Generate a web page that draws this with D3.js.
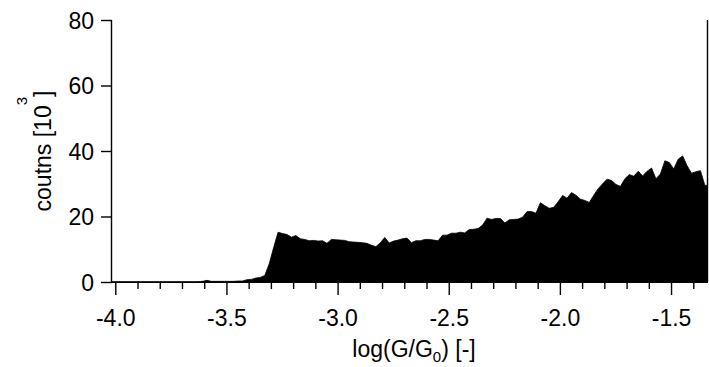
<!DOCTYPE html>
<html>
<head>
<meta charset="utf-8">
<script src="https://cdn.jsdelivr.net/npm/d3@7"></script>
<style>
  html, body { margin: 0; padding: 0; background: #fff; }
  svg { display: block; }
  text { font-family: "Liberation Sans", Arial, sans-serif; fill: #000; }
</style>
</head>
<body>
<svg id="chart" width="709" height="367"></svg>
<script>
// Conductance histogram: counts (in thousands) per log(G/G0) bin
const binStart = -4.02;
const binWidth = 0.02;
const counts = [
  0.1, 0.1, 0.1, 0.1, 0.1, 0.1, 0.1, 0.1, 0.1, 0.1,
  0.1, 0.1, 0.1, 0.1, 0.1, 0.1, 0.1, 0.1, 0.1, 0.1,
  0.2, 0.5, 0.2, 0.2, 0.2, 0.2, 0.2, 0.2, 0.3, 0.3,
  0.7, 0.8, 1.2, 1.4, 2.0, 5.5, 10.5, 15.2, 14.8, 14.5,
  13.7, 14.2, 13.2, 13.0, 12.6, 12.7, 12.5, 12.6, 11.8, 13.0,
  12.9, 12.8, 12.7, 12.3, 12.2, 12.1, 12.0, 11.8, 11.2, 10.8,
  12.0, 13.6, 11.9, 12.5, 12.8, 13.2, 13.4, 12.0, 12.6, 12.6,
  13.0, 13.0, 12.8, 12.6, 14.3, 14.3, 14.9, 14.9, 15.2, 15.0,
  16.0, 16.1, 16.3, 17.4, 19.5, 19.1, 19.4, 19.4, 18.0, 19.0,
  19.1, 19.2, 19.8, 21.5, 21.5, 21.0, 24.2, 23.3, 22.5, 22.8,
  24.5, 26.4, 25.6, 27.3, 26.5, 25.3, 24.9, 24.3, 26.5, 28.5,
  30.0, 31.4, 31.0, 29.8, 29.2, 31.5, 32.8, 32.3, 33.8, 32.4,
  33.8, 34.8, 31.5, 33.0, 37.0, 36.5, 34.5, 37.5, 38.5, 35.5,
  33.2, 33.7, 34.0, 29.5
];

const xDomain = [-4.017, -1.336];
const yDomain = [0, 80];
const xMajorTicks = [-4.0, -3.5, -3.0, -2.5, -2.0, -1.5];
const xMinorTicks = d3.range(-40, -13).map(d => d / 10);
const yTicks = [0, 20, 40, 60, 80];

const plot = { left: 112, right: 708, top: 20, bottom: 282 };
const fontPx = 23;

const svg = d3.select("#chart");

const x = d3.scaleLinear().domain(xDomain).range([plot.left, plot.right]);
const y = d3.scaleLinear().domain(yDomain).range([plot.bottom, plot.top]);

// Histogram outline traced through bin centres
const pts = counts.map((c, i) => ({ pos: binStart + (i + 0.5) * binWidth, c }));
const first = { pos: binStart, c: counts[0] };
const last = { pos: binStart + counts.length * binWidth, c: counts[counts.length - 1] };
const outline = [first, ...pts, last];

svg.append("defs").append("clipPath").attr("id", "plotClip")
  .append("rect")
  .attr("x", plot.left).attr("y", plot.top)
  .attr("width", plot.right - plot.left).attr("height", plot.bottom - plot.top + 1);

const area = d3.area()
  .x(d => x(d.pos))
  .y0(y(0))
  .y1(d => y(d.c))
  .curve(d3.curveLinear);

svg.append("path")
  .datum(outline)
  .attr("clip-path", "url(#plotClip)")
  .attr("d", area)
  .attr("fill", "#000")
  .attr("stroke", "#000")
  .attr("stroke-width", 0.8);

// Y axis
const yAxis = d3.axisLeft(y)
  .tickValues(yTicks)
  .tickSize(11)
  .tickPadding(7)
  .tickFormat(d3.format("d"));

const gy = svg.append("g")
  .attr("transform", `translate(${plot.left},0)`)
  .call(yAxis);
gy.select(".domain").attr("d", `M-0.5,${plot.top}V${plot.bottom + 1}`).attr("stroke-width", 1.4);
gy.selectAll(".tick line").attr("stroke-width", 1.4);
gy.selectAll(".tick text").attr("font-size", fontPx).attr("dy", "0.35em")
  .style("font-family", '"Liberation Sans", Arial, sans-serif');

// X axis (major + minor ticks, labels on major only)
const gx = svg.append("g").attr("transform", `translate(0,${plot.bottom})`);
gx.append("line")
  .attr("x1", plot.left).attr("x2", plot.right)
  .attr("y1", 0.5).attr("y2", 0.5)
  .attr("stroke", "#000").attr("stroke-width", 1);

gx.selectAll("line.minor")
  .data(xMinorTicks.filter(v => !xMajorTicks.some(m => Math.abs(m - v) < 1e-9)))
  .join("line")
  .attr("class", "minor")
  .attr("x1", d => x(d)).attr("x2", d => x(d))
  .attr("y1", 1).attr("y2", 7)
  .attr("stroke", "#000").attr("stroke-width", 1.4);

gx.selectAll("line.major")
  .data(xMajorTicks)
  .join("line")
  .attr("class", "major")
  .attr("x1", d => x(d)).attr("x2", d => x(d))
  .attr("y1", 1).attr("y2", 13)
  .attr("stroke", "#000").attr("stroke-width", 1.4);

gx.selectAll("text.tl")
  .data(xMajorTicks)
  .join("text")
  .attr("class", "tl")
  .attr("x", d => x(d))
  .attr("y", 44)
  .attr("text-anchor", "middle")
  .attr("font-size", fontPx)
  .text(d => d.toFixed(1));

// Right frame line
svg.append("line")
  .attr("x1", plot.right - 0.5).attr("x2", plot.right - 0.5)
  .attr("y1", plot.top).attr("y2", plot.bottom)
  .attr("stroke", "#000").attr("stroke-width", 1.4);

// X title: log(G/G0) [-]
const xt = svg.append("text")
  .attr("x", (plot.left + plot.right) / 2 + 4)
  .attr("y", 357)
  .attr("text-anchor", "middle")
  .attr("font-size", fontPx);
xt.append("tspan").text("log(G/G");
xt.append("tspan").attr("font-size", 15).attr("dy", 5).text("0");
xt.append("tspan").attr("dy", -5).text(") [-]");

// Y title: coutns [10^3]
const yt = svg.append("text")
  .attr("transform", `translate(51,${(plot.top + plot.bottom) / 2}) rotate(-90)`)
  .attr("text-anchor", "middle")
  .attr("font-size", fontPx);
yt.append("tspan").text("coutns [10");
yt.append("tspan").attr("font-size", 15).attr("dy", -24).text("3");
yt.append("tspan").attr("dy", 24).text("]");
</script>
</body>
</html>
